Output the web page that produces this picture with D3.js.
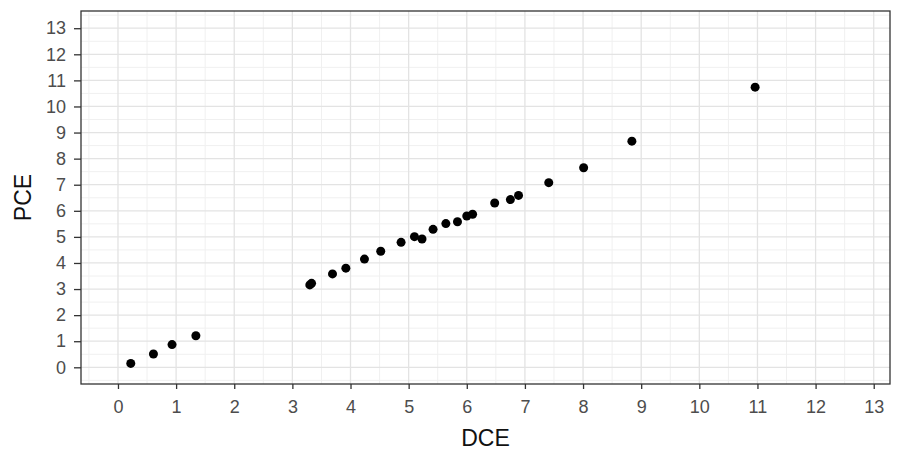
<!DOCTYPE html>
<html>
<head>
<meta charset="utf-8">
<script src="https://cdn.jsdelivr.net/npm/d3@7"></script>
<style>
  body { margin: 0; background: #fff; }
  text { font-family: "Liberation Sans", Arial, sans-serif; }
</style>
</head>
<body>
<div class="chart"></div>
<script>
// values
const dce = [0.22, 0.61, 0.93, 1.34, 3.30, 3.33, 3.69, 3.92, 4.24, 4.52, 4.87, 5.10, 5.23,
  5.42, 5.64, 5.84, 6.00, 6.10, 6.48, 6.75, 6.89, 7.41, 8.01, 8.84, 10.96]
const pce = [0.15, 0.51, 0.87, 1.21, 3.16, 3.22, 3.58, 3.80, 4.15, 4.45, 4.79, 5.01, 4.92,
  5.29, 5.51, 5.58, 5.80, 5.87, 6.30, 6.43, 6.59, 7.08, 7.65, 8.67, 10.74]
const xTicks = d3.range(0, 14)
const yTicks = d3.range(0, 14)

const data = dce.map((d, i) => ({ dce: d, pce: pce[i] }))

var margin = {top: 11, right: 12, bottom: 68, left: 81},
    width = 902 - margin.left - margin.right,
    height = 452 - margin.top - margin.bottom

var x = d3.scaleLinear()
    .domain([-0.636, 13.28])
    .range([0, width])
var y = d3.scaleLinear()
    .domain([-0.64, 13.66])
    .range([height, 0])

var svg = d3.select(".chart").append("svg")
    .attr("width", 902)
    .attr("height", 452)
  .append("g")
    .attr("transform", "translate(" + margin.left + "," + margin.top + ")")

// minor grid
var minors = d3.range(-0.5, 14, 1)
svg.selectAll(".vminor").data(minors.filter(v => x(v) >= 0 && x(v) <= width))
  .enter().append("line")
  .attr("x1", d => x(d)).attr("x2", d => x(d))
  .attr("y1", 0).attr("y2", height)
  .attr("stroke", "#f0f0f0").attr("stroke-width", 1)
svg.selectAll(".hminor").data(minors.filter(v => y(v) >= 0 && y(v) <= height))
  .enter().append("line")
  .attr("y1", d => y(d)).attr("y2", d => y(d))
  .attr("x1", 0).attr("x2", width)
  .attr("stroke", "#f0f0f0").attr("stroke-width", 1)

// major grid
svg.selectAll(".vmajor").data(xTicks)
  .enter().append("line")
  .attr("x1", d => x(d)).attr("x2", d => x(d))
  .attr("y1", 0).attr("y2", height)
  .attr("stroke", "#e3e3e3").attr("stroke-width", 1.3)
svg.selectAll(".hmajor").data(yTicks)
  .enter().append("line")
  .attr("y1", d => y(d)).attr("y2", d => y(d))
  .attr("x1", 0).attr("x2", width)
  .attr("stroke", "#e3e3e3").attr("stroke-width", 1.3)

// points
svg.selectAll(".dot")
  .data(data)
  .enter().append("circle")
  .attr("cx", d => x(d.dce))
  .attr("cy", d => y(d.pce))
  .attr("r", 4.5)
  .attr("fill", "#000")

// panel border
svg.append("rect")
  .attr("width", width).attr("height", height)
  .attr("fill", "none").attr("stroke", "#333").attr("stroke-width", 1.3)

// axes
var xAxis = svg.append("g")
  .attr("transform", "translate(0," + height + ")")
  .call(d3.axisBottom(x).tickValues(xTicks).tickSize(5).tickPadding(11))
var yAxis = svg.append("g")
  .call(d3.axisLeft(y).tickValues(yTicks).tickSize(7).tickPadding(8))

;[xAxis, yAxis].forEach(g => {
  g.select(".domain").remove()
  g.selectAll(".tick line").attr("stroke", "#333").attr("stroke-width", 1.3)
  g.selectAll(".tick text")
    .attr("fill", "#4d4d4d")
    .style("font-size", "18px")
    .style("font-family", "'Liberation Sans', Arial, sans-serif")
})

// axis titles
svg.append("text")
  .attr("x", width / 2)
  .attr("y", height + 62)
  .attr("text-anchor", "middle")
  .style("font-size", "23px")
  .attr("fill", "#111")
  .text("DCE")

svg.append("text")
  .attr("transform", "translate(" + (-50) + "," + (height / 2) + ") rotate(-90)")
  .attr("text-anchor", "middle")
  .style("font-size", "23px")
  .attr("fill", "#111")
  .text("PCE")
</script>
</body>
</html>
